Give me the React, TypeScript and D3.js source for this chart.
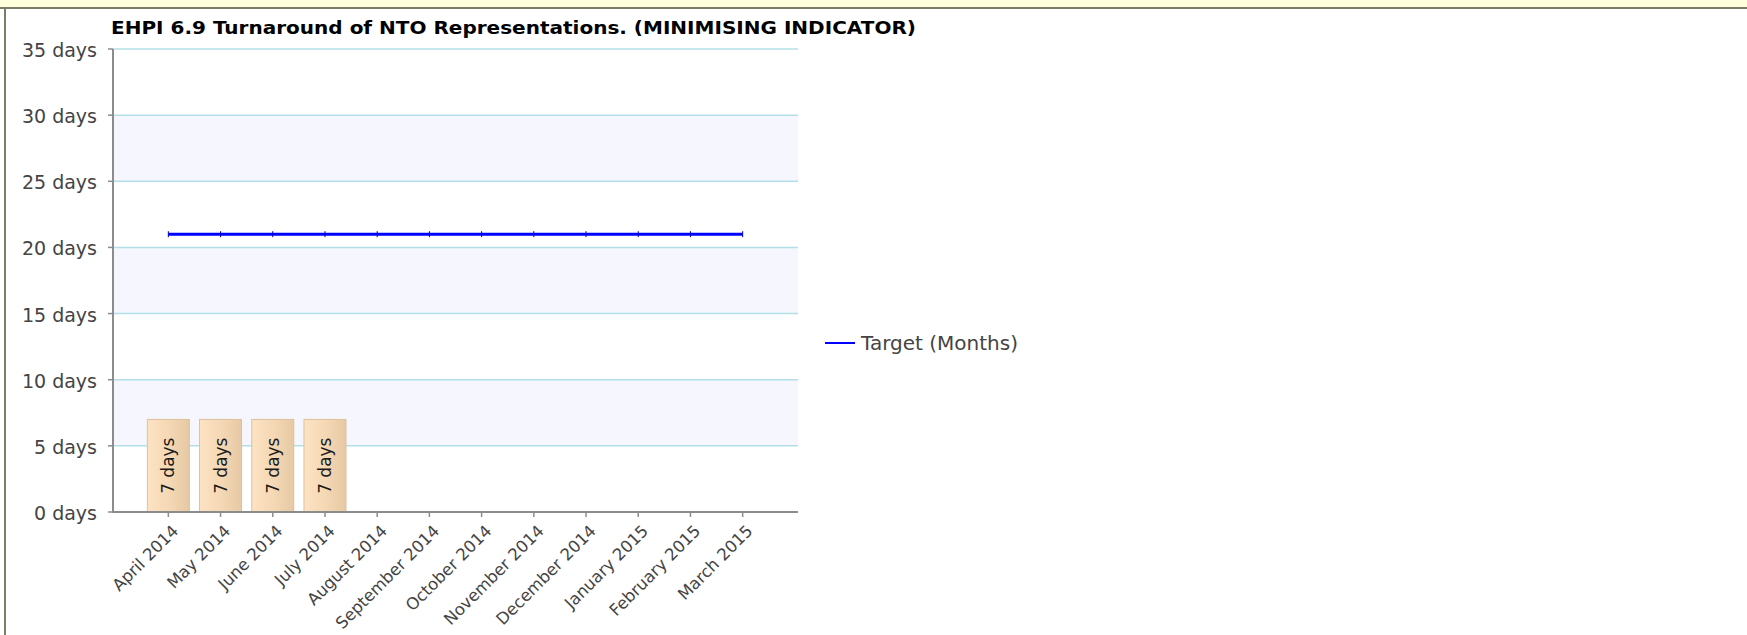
import React from 'react';
import * as d3 from 'd3';

const categories = [
  'April 2014', 'May 2014', 'June 2014', 'July 2014', 'August 2014', 'September 2014',
  'October 2014', 'November 2014', 'December 2014', 'January 2015', 'February 2015', 'March 2015',
];
const actualDays: (number | null)[] = [7, 7, 7, 7, null, null, null, null, null, null, null, null];
const targetDays = [21, 21, 21, 21, 21, 21, 21, 21, 21, 21, 21, 21];
const yTicks = [0, 5, 10, 15, 20, 25, 30, 35];
const title = 'EHPI 6.9 Turnaround of NTO Representations. (MINIMISING INDICATOR)';
const legendLabel = 'Target (Months)';

const W = 1747;
const H = 635;
const plot = { left: 113, right: 798, top: 49, bottom: 512 };
const FONT = '"DejaVu Sans", Verdana, sans-serif';

export default function App() {
  const x = d3.scalePoint<string>().domain(categories).range([plot.left, plot.right]).padding(1.06);
  const y = d3.scaleLinear().domain([0, 35]).range([plot.bottom, plot.top]);
  const barW = 42;

  const line = d3
    .line<number>()
    .x((_, i) => x(categories[i]) as number)
    .y((d) => y(d));

  const bands = yTicks.slice(0, -1).map((t, i) => ({ lo: t, hi: yTicks[i + 1], shaded: i % 2 === 1 }));

  return (
    <svg
      width={W}
      height={H}
      style={{ position: 'absolute', left: 0, top: 0, background: '#fff' }}
      xmlns="http://www.w3.org/2000/svg"
    >
      <defs>
        <linearGradient id="barGrad" x1="0" x2="1" y1="0" y2="0">
          <stop offset="0" stopColor="#fde3c3" />
          <stop offset="0.5" stopColor="#f5d8b5" />
          <stop offset="1" stopColor="#e6c8a4" />
        </linearGradient>
      </defs>
      <rect x={0} y={0} width={W} height={H} fill="#ffffff" />
      {/* frame */}
      <rect x={0} y={0} width={W} height={7} fill="#ffffdc" />
      <rect x={0} y={7} width={W} height={2} fill="#7d7d67" />
      <rect x={4} y={9} width={2} height={H - 9} fill="#7d7d67" />

      {/* title */}
      <text
        x={111}
        y={34}
        fontFamily={FONT}
        fontWeight="bold"
        fontSize={18.5}
        fill="#000"
        textLength={805}
        lengthAdjust="spacingAndGlyphs"
      >
        {title}
      </text>

      {/* bands */}
      {bands.map((b) => (
        <rect
          key={b.lo}
          x={plot.left}
          y={y(b.hi)}
          width={plot.right - plot.left}
          height={y(b.lo) - y(b.hi)}
          fill={b.shaded ? '#f6f7fe' : '#ffffff'}
        />
      ))}
      {/* grid */}
      {yTicks
        .filter((t) => t > 0)
        .map((t) => (
          <line
            key={t}
            x1={plot.left}
            x2={plot.right}
            y1={y(t)}
            y2={y(t)}
            stroke="#b2dfe7"
            strokeWidth={1.5}
          />
        ))}

      {/* bars */}
      {actualDays.map((v, i) =>
        v == null ? null : (
          <g key={categories[i]}>
            <rect
              x={(x(categories[i]) as number) - barW / 2}
              y={y(v)}
              width={barW}
              height={y(0) - y(v)}
              fill="url(#barGrad)"
              stroke="#dcc09e"
              strokeWidth={1}
            />
            <text
              transform={`translate(${x(categories[i])},${(y(v) + y(0)) / 2}) rotate(-90)`}
              textAnchor="middle"
              dominantBaseline="central"
              fontFamily={FONT}
              fontSize={17}
              fill="#1a1a1a"
            >
              {`${v} days`}
            </text>
          </g>
        )
      )}

      {/* target line */}
      <path d={line(targetDays) || ''} fill="none" stroke="#0000ff" strokeWidth={3} />
      {targetDays.map((v, i) => (
        <line
          key={i}
          x1={x(categories[i]) as number}
          x2={x(categories[i]) as number}
          y1={y(v) - 3}
          y2={y(v) + 3}
          stroke="#0000c0"
          strokeWidth={1}
        />
      ))}

      {/* y axis */}
      <line x1={plot.left} x2={plot.left} y1={plot.top} y2={plot.bottom + 1} stroke="#8c8c8c" strokeWidth={2} />
      {yTicks.map((t) => (
        <g key={t}>
          <line x1={plot.left - 5} x2={plot.left} y1={y(t)} y2={y(t)} stroke="#8c8c8c" strokeWidth={1.5} />
          <text
            x={97}
            y={y(t) + 1}
            textAnchor="end"
            dominantBaseline="central"
            fontFamily={FONT}
            fontSize={19}
            fill="#444"
          >
            {`${t} days`}
          </text>
        </g>
      ))}

      {/* x axis */}
      <line x1={plot.left} x2={plot.right} y1={plot.bottom} y2={plot.bottom} stroke="#8c8c8c" strokeWidth={2} />
      {categories.map((c) => (
        <g key={c}>
          <line
            x1={x(c) as number}
            x2={x(c) as number}
            y1={plot.bottom}
            y2={plot.bottom + 5}
            stroke="#8c8c8c"
            strokeWidth={1.5}
          />
          <text
            transform={`translate(${(x(c) as number) + 11},${plot.bottom + 20}) rotate(-45)`}
            textAnchor="end"
            fontFamily={FONT}
            fontSize={16.5}
            fill="#444"
          >
            {c}
          </text>
        </g>
      ))}

      {/* legend */}
      <line x1={825} x2={855} y1={343} y2={343} stroke="#0000ff" strokeWidth={2} />
      <text
        x={861}
        y={343}
        dominantBaseline="central"
        fontFamily={FONT}
        fontSize={19.5}
        fill="#444"
        textLength={157}
        lengthAdjust="spacingAndGlyphs"
      >
        {legendLabel}
      </text>
    </svg>
  );
}
